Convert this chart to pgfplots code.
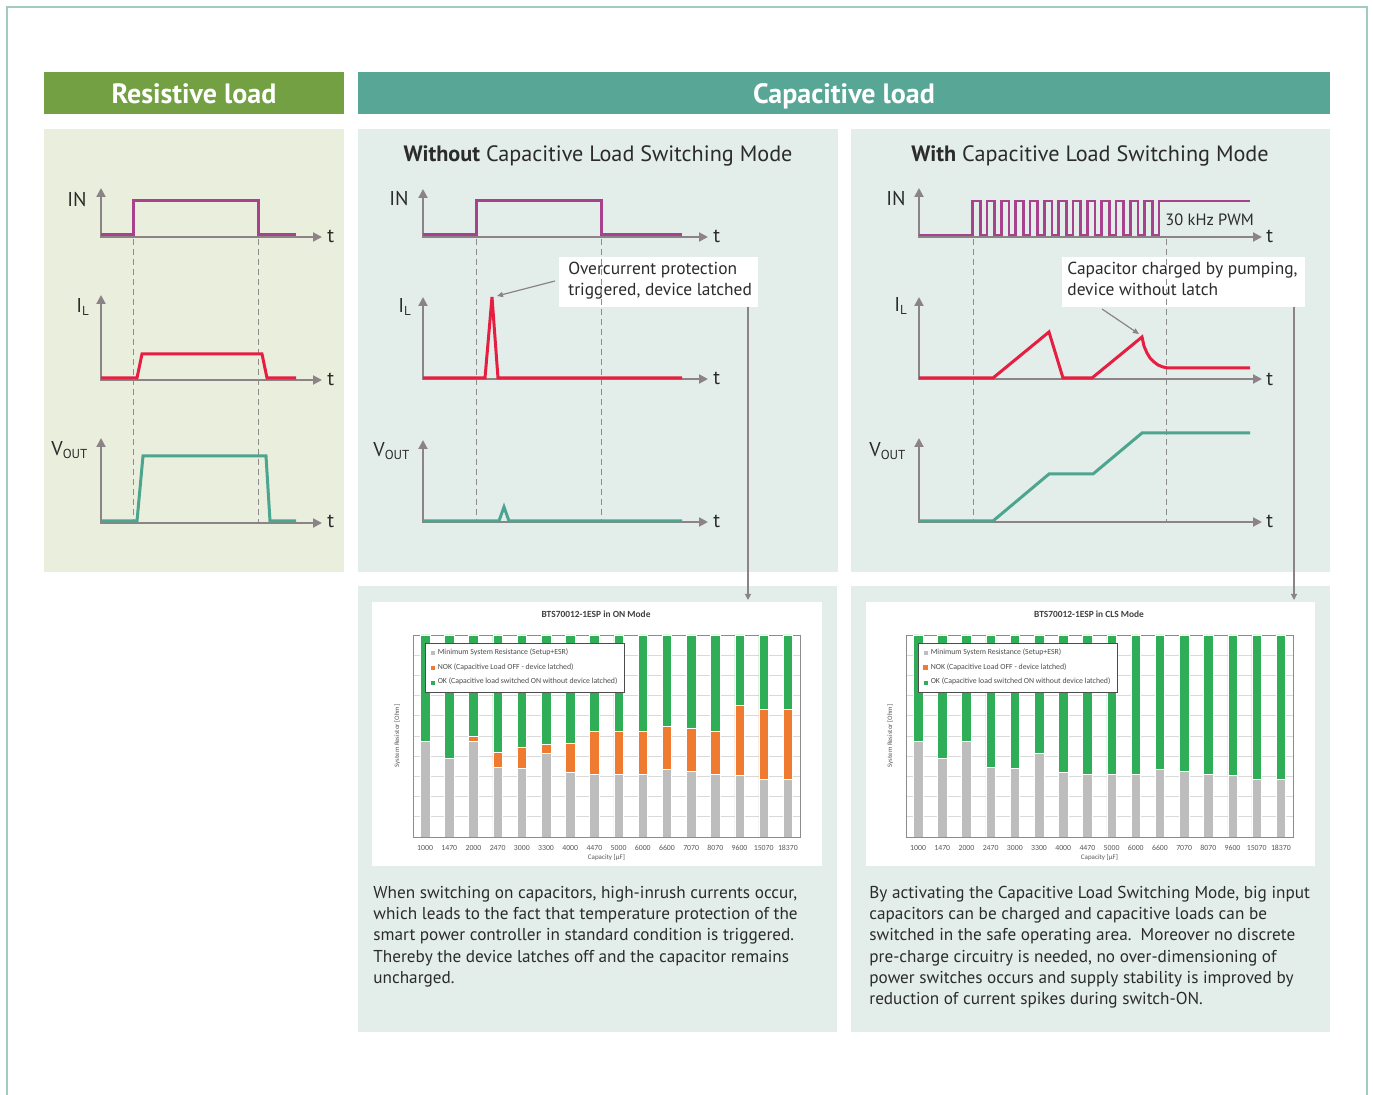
\documentclass[border=0pt]{standalone}
\usepackage{fontspec}
\setmainfont{PT Sans}
\newfontfamily\chartfont{Carlito}
\usepackage{pgfplots}
\pgfplotsset{compat=1.18}
\usetikzlibrary{arrows.meta}
\definecolor{bordc}{HTML}{9FCBC0}
\definecolor{resgreen}{HTML}{72A043}
\definecolor{capteal}{HTML}{58A695}
\definecolor{resbg}{HTML}{EAEEDD}
\definecolor{capbg}{HTML}{E3EEEA}
\definecolor{axg}{HTML}{8C8386}
\definecolor{inc}{HTML}{A8428C}
\definecolor{ilc}{HTML}{E61E41}
\definecolor{voc}{HTML}{4EA58F}
\definecolor{txt}{HTML}{2B2B2B}
\definecolor{bargray}{HTML}{BDBDBD}
\definecolor{barorange}{HTML}{EE7B30}
\definecolor{bargreen}{HTML}{2FAD57}
\pgfplotsset{
  graybar/.style={fill=bargray, draw=white, line width=0.25pt},
  orbar/.style={fill=barorange, draw=white, line width=0.25pt},
  grbar/.style={fill=bargreen, draw=white, line width=0.25pt},
  barchart/.style={
    width=193.5pt, height=101pt, scale only axis,
    ybar stacked, bar width=4.75pt,
    xmin=-0.5, xmax=15.5, ymin=0, ymax=10,
    xtick={0,...,15},
    xticklabels={1000,1470,2000,2470,3000,3300,4000,4470,5000,6000,6600,7070,8070,9600,15070,18370},
    ytick={0,...,10}, yticklabels={},
    ymajorgrids, grid style={black!15, line width=0.3pt},
    major tick length=0pt,
    axis line style={black!45, line width=0.4pt},
    xticklabel style={font=\chartfont\fontsize{3.9}{4.5}\selectfont, text=black!65, anchor=base, inner sep=0pt, yshift=-6.6pt},
    xlabel={Capacity [µF]},
    xlabel style={at={(axis description cs:0.5,-0.104)}, anchor=center, font=\chartfont\fontsize{3.5}{4}\selectfont, text=black!65},
    ylabel={System Resistor [Ohm]},
    ylabel style={at={(axis description cs:-0.041,0.5)}, anchor=center, font=\chartfont\fontsize{3.4}{4}\selectfont, text=black!65},
    title style={at={(axis description cs:0.473,1.104)}, anchor=center, yshift=-6pt, font=\chartfont\bfseries\fontsize{4.7}{5.5}\selectfont, text=black!75},
    legend style={at={(0.031,0.96)}, anchor=north west, draw=black!70, line width=0.5pt, fill=white,
      font=\chartfont\fontsize{3.9}{4.5}\selectfont, text=black!70, row sep=0.6pt, inner xsep=2.3pt, inner ysep=1.4pt,
      nodes={inner sep=1.2pt}},
    legend cell align=left,
    legend image code/.code={\fill[##1] (0pt,-1.2pt) rectangle (2.4pt,1.2pt);},
  }
}
\begin{document}
\begin{tikzpicture}[x=0.5pt,y=-0.5pt]
\path[use as bounding box] (0,0) rectangle (1373,1095);
\fill[white] (0,0) rectangle (1373,1095);
\draw[bordc, line width=1pt] (7,1095) -- (7,7) -- (1367,7) -- (1367,1095);
% headers
\fill[resgreen] (44,72) rectangle (344,114);
\fill[capteal] (358,72) rectangle (1330,114);
\node[anchor=base, text=white, font=\bfseries\fontsize{14}{16}\selectfont] at (194,104) {Resistive load};
\node[anchor=base, text=white, font=\bfseries\fontsize{14}{16}\selectfont] at (844,104) {Capacitive load};
% panels
\fill[resbg] (44,129) rectangle (344,572);
\fill[capbg] (358,129) rectangle (838,572);
\fill[capbg] (851,129) rectangle (1330,572);
\fill[capbg] (358,586) rectangle (837,1032);
\fill[capbg] (851,586) rectangle (1330,1032);
\fill[white] (372,602) rectangle (822,866);
\fill[white] (866,602) rectangle (1315,866);
% panel titles
\node[anchor=base, text=txt, font=\fontsize{11.1}{13}\selectfont] at (598,162) {\textbf{Without} Capacitive Load Switching Mode};
\node[anchor=base, text=txt, font=\fontsize{11.1}{13}\selectfont] at (1090,162) {\textbf{With} Capacitive Load Switching Mode};
% annotation boxes
\fill[white] (559,257) rectangle (758,307);
\fill[white] (1062,257) rectangle (1305,307);
\tikzset{ann/.style={anchor=base west, text=txt, font=\fontsize{8.7}{10}\selectfont, inner sep=0pt}}
\node[ann] at (568,275) {Overcurrent protection};
\node[ann] at (568,296) {triggered, device latched};
\node[ann] at (1067,275) {Capacitor charged by pumping,};
\node[ann] at (1067,296) {device without latch};
\draw[axg, line width=0.6pt, -{Triangle[length=3pt,width=3pt]}] (748,307) -- (748,600);
\draw[axg, line width=0.6pt, -{Triangle[length=3pt,width=3pt]}] (1294,307) -- (1294,600);
\draw[axg, line width=0.6pt, -{Triangle[length=3pt,width=2.6pt]}] (555,281) -- (497,296);
\draw[axg, line width=0.6pt, -{Triangle[length=3pt,width=2.6pt]}] (1102,309) -- (1139,334);
% signal labels
\tikzset{lab/.style={anchor=base west, inner sep=0pt, text=txt, font=\fontsize{10}{12}\selectfont}}
\newcommand{\IL}{I\textsubscript{\fontsize{6.5}{7}\selectfont L}}
\newcommand{\VOUT}{V\textsubscript{\fontsize{6.5}{7}\selectfont OUT}}
\node[lab] at (67,207) {IN};
\node[lab] at (76,313) {\IL};
\node[lab] at (51,456) {\VOUT};
\node[lab] at (389,206) {IN};
\node[lab] at (398,313) {\IL};
\node[lab] at (373,457) {\VOUT};
\node[lab] at (886,206) {IN};
\node[lab] at (894,312) {\IL};
\node[lab] at (869,457) {\VOUT};
\node[lab] at (327,243) {t};
\node[lab] at (327,386) {t};
\node[lab] at (327,528) {t};
\node[lab] at (713,243) {t};
\node[lab] at (713,385) {t};
\node[lab] at (713,528) {t};
\node[lab] at (1266,243) {t};
\node[lab] at (1266,386) {t};
\node[lab] at (1266,528) {t};
\node[anchor=base west, inner sep=0pt, text=txt, font=\fontsize{8.2}{10}\selectfont] at (1165,226) {30 kHz PWM};
% body text
\tikzset{body/.style={anchor=base west, inner sep=0pt, text=txt, font=\fontsize{8.6}{10.5}\selectfont}}
\node[body] at (373,899) {When switching on capacitors, high-inrush currents occur,};
\node[body] at (373,920) {which leads to the fact that temperature protection of the};
\node[body] at (373,941) {smart power controller in standard condition is triggered.};
\node[body] at (373,963) {Thereby the device latches off and the capacitor remains};
\node[body] at (373,984) {uncharged.};
\node[body] at (869,899) {By activating the Capacitive Load Switching Mode, big input};
\node[body] at (869,920) {capacitors can be charged and capacitive loads can be};
\node[body] at (869,941) {switched in the safe operating area.\ \ Moreover no discrete};
\node[body] at (869,963) {pre-charge circuitry is needed, no over-dimensioning of};
\node[body] at (869,984) {power switches occurs and supply stability is improved by};
\node[body] at (869,1005) {reduction of current spikes during switch-ON.};

% timing diagrams
\begin{axis}[at={(0pt,0pt)}, anchor=north west, width=686.5pt, height=547.5pt, scale only axis,
  xmin=0, xmax=1373, ymin=0, ymax=1095, y dir=reverse, axis lines=none, clip=false]
\tikzset{ax/.style={axg, line width=1pt, {Triangle[length=4.5pt,width=4.5pt]}-{Triangle[length=4.5pt,width=4.5pt]}},
  dsh/.style={black!45, line width=0.5pt, dash pattern=on 3pt off 2pt}}
% axes
\draw[ax] (101,188) -- (101,237) -- (322,237);
\draw[ax] (101,295) -- (101,380) -- (322,380);
\draw[ax] (101,438) -- (101,523) -- (322,523);
\draw[ax] (423,189) -- (423,237) -- (708,237);
\draw[ax] (423,297) -- (423,379) -- (708,379);
\draw[ax] (423,440) -- (423,522) -- (708,522);
\draw[ax] (919,188) -- (919,237) -- (1262,237);
\draw[ax] (919,297) -- (919,379) -- (1262,379);
\draw[ax] (919,438) -- (919,522) -- (1262,522);
% dashed guides
\draw[dsh] (133,239) -- (133,522);
\draw[dsh] (258,239) -- (258,522);
\draw[dsh] (476,239) -- (476,521);
\draw[dsh] (601,239) -- (601,521);
\draw[dsh] (973,239) -- (973,521);
\draw[dsh] (1166,239) -- (1166,521);
% resistive
\addplot[inc, line width=1.5pt] coordinates {(101,235) (133,235) (133,201) (258,201) (258,235) (296,235)};
\addplot[ilc, line width=1.5pt] coordinates {(101,378) (137,378) (142,354) (262,354) (267,378) (296,378)};
\addplot[voc, line width=1.5pt] coordinates {(101,521) (137,521) (143,456) (266,456) (270,521) (296,521)};
% without CLS
\addplot[inc, line width=1.5pt] coordinates {(423,235) (476,235) (476,201) (601,201) (601,235) (682,235)};
\addplot[ilc, line width=1.5pt] coordinates {(423,378) (485,378) (492,297) (498,378) (682,378)};
\addplot[voc, line width=1.5pt] coordinates {(423,521) (499,521) (504,507) (509,521) (682,521)};
% with CLS
\addplot[inc, line width=1.3pt] coordinates {(919,235) (972.7,235) (972.7,201) (980.3,201) (980.3,235)
 (987.0,235) (987.0,201) (994.6,201) (994.6,235)
 (1001.4,235) (1001.4,201) (1009.0,201) (1009.0,235)
 (1015.7,235) (1015.7,201) (1023.3,201) (1023.3,235)
 (1030.0,235) (1030.0,201) (1037.6,201) (1037.6,235)
 (1044.4,235) (1044.4,201) (1052.0,201) (1052.0,235)
 (1058.7,235) (1058.7,201) (1066.3,201) (1066.3,235)
 (1073.0,235) (1073.0,201) (1080.6,201) (1080.6,235)
 (1087.3,235) (1087.3,201) (1094.9,201) (1094.9,235)
 (1101.7,235) (1101.7,201) (1109.3,201) (1109.3,235)
 (1116.0,235) (1116.0,201) (1123.6,201) (1123.6,235)
 (1130.3,235) (1130.3,201) (1137.9,201) (1137.9,235)
 (1144.7,235) (1144.7,201) (1152.3,201) (1152.3,235)
 (1159.0,235) (1159.0,201) (1250,201)};
\addplot[ilc, line width=1.5pt] coordinates {(919,378) (993,378) (1049,332) (1063,378) (1092,378) (1142,337)
 (1144,346) (1147,353) (1150,358) (1154,362) (1158,365) (1163,367) (1168,368) (1250,368)};
\addplot[voc, line width=1.5pt] coordinates {(919,521) (993,521) (1049,474) (1093,474) (1142,433) (1250,433)};
\end{axis}

% bar chart: ON mode
\begin{axis}[barchart, at={(206.5pt,-418.5pt)}, anchor=south west, title={BTS70012-1ESP in ON Mode}]
\addplot[graybar] coordinates {(0,4.74) (1,3.88) (2,4.74) (3,3.44) (4,3.39) (5,4.13) (6,3.19) (7,3.11) (8,3.11) (9,3.11) (10,3.34) (11,3.24) (12,3.11) (13,3.06) (14,2.84) (15,2.84)};
\addplot[orbar] coordinates {(0,0) (1,0) (2,0.25) (3,0.77) (4,1.07) (5,0.47) (6,1.47) (7,2.13) (8,2.13) (9,2.13) (10,2.15) (11,2.16) (12,2.13) (13,3.45) (14,3.49) (15,3.49)};
\addplot[grbar] coordinates {(0,5.26) (1,6.12) (2,5.01) (3,5.79) (4,5.54) (5,5.40) (6,5.34) (7,4.76) (8,4.76) (9,4.76) (10,4.51) (11,4.60) (12,4.76) (13,3.49) (14,3.67) (15,3.67)};
\addlegendentry{Minimum System Resistance (Setup+ESR)}
\addlegendentry{NOK (Capacitive Load OFF - device latched)}
\addlegendentry{OK (Capacitive load switched ON without device latched)}
\end{axis}

% bar chart: CLS mode
\begin{axis}[barchart, at={(453pt,-418.5pt)}, anchor=south west, title={BTS70012-1ESP in CLS Mode}]
\addplot[graybar] coordinates {(0,4.74) (1,3.88) (2,4.74) (3,3.44) (4,3.39) (5,4.13) (6,3.19) (7,3.11) (8,3.11) (9,3.11) (10,3.34) (11,3.24) (12,3.11) (13,3.06) (14,2.84) (15,2.84)};
\addplot[orbar, draw=none] coordinates {(0,0) (1,0) (2,0) (3,0) (4,0) (5,0) (6,0) (7,0) (8,0) (9,0) (10,0) (11,0) (12,0) (13,0) (14,0) (15,0)};
\addplot[grbar] coordinates {(0,5.26) (1,6.12) (2,5.26) (3,6.56) (4,6.61) (5,5.87) (6,6.81) (7,6.89) (8,6.89) (9,6.89) (10,6.66) (11,6.76) (12,6.89) (13,6.94) (14,7.16) (15,7.16)};
\addlegendentry{Minimum System Resistance (Setup+ESR)}
\addlegendentry{NOK (Capacitive Load OFF - device latched)}
\addlegendentry{OK (Capacitive load switched ON without device latched)}
\end{axis}
\end{tikzpicture}
\end{document}
